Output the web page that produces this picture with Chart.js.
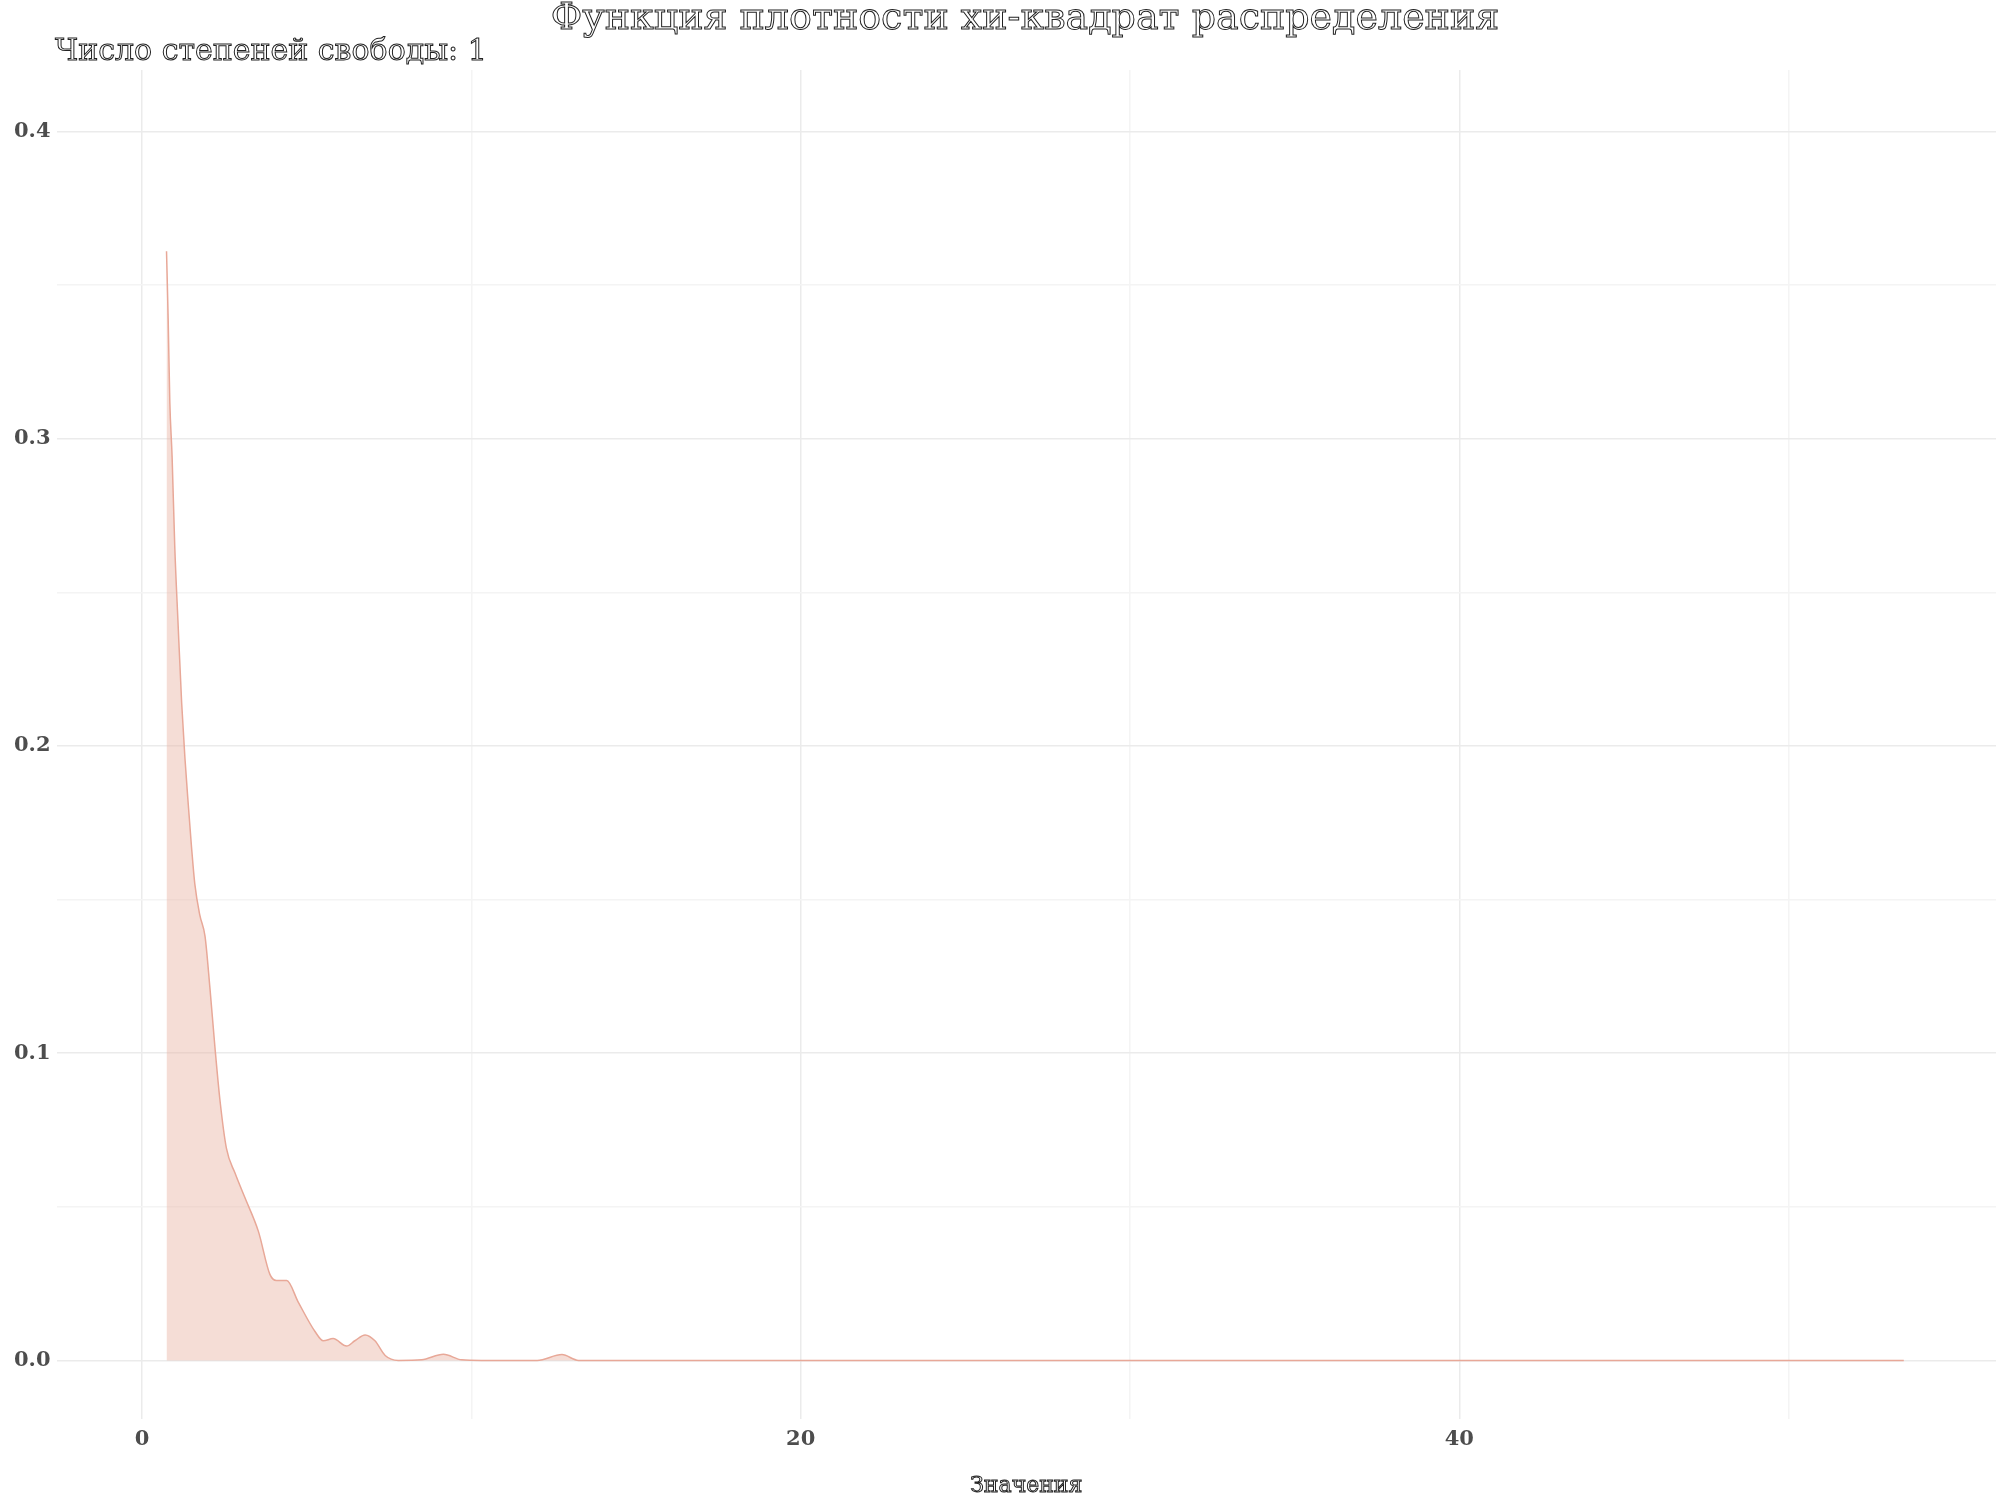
<!DOCTYPE html>
<html>
<head>
<meta charset="utf-8">
<script src="https://cdn.jsdelivr.net/npm/chart.js@4"></script>
<style>
  html, body { margin: 0; padding: 0; background: #fff; }
  #wrap { width: 2000px; height: 1500px; }
</style>
</head>
<body>
<div id="wrap"><canvas id="chart1"></canvas></div>
<script>
// Значения x и плотность
var xValues = [0.74, 0.79, 0.84, 0.91, 0.99, 1.09, 1.20, 1.30, 1.40, 1.50, 1.60, 1.75, 1.91, 2.06, 2.21, 2.36, 2.56, 2.82, 3.12, 3.53, 3.88, 4.08, 4.39, 4.74, 5.25, 5.5, 5.8, 6.21, 6.46, 6.77, 7.07, 7.38, 7.78, 8.49, 9.15, 9.7, 10.3, 12.0, 12.75, 13.25, 20, 30, 40, 53.5];
var density = [0.361, 0.339, 0.312, 0.294, 0.265, 0.240, 0.214, 0.196, 0.181, 0.167, 0.155, 0.145, 0.138, 0.121, 0.102, 0.085, 0.069, 0.061, 0.053, 0.042, 0.028, 0.026, 0.026, 0.019, 0.0094, 0.0064, 0.0071, 0.0047, 0.0064, 0.0083, 0.0064, 0.0016, 0, 0.0002, 0.002, 0.0002, 0, 0, 0.0019, 0, 0, 0, 0, 0];
var xTickLabels = ['0', '20', '40'];
var yTickLabels = ['0.0', '0.1', '0.2', '0.3', '0.4'];

var titleText = 'Функция плотности хи-квадрат распределения';
var subtitleText = 'Число степеней свободы: 1';
var xTitleText = 'Значения';

var points = xValues.map(function (x, i) { return { x: x, y: density[i] }; });

// контурный текст заголовков
var outlineTitles = {
  id: 'outlineTitles',
  afterDraw: function (chart) {
    var c = chart.ctx;
    c.save();
    c.strokeStyle = '#222';
    c.lineWidth = 1;
    c.textBaseline = 'middle';
    c.font = '38px "DejaVu Serif"';
    c.textAlign = 'center';
    c.strokeText(titleText, 1025, 19);
    c.font = '30px "DejaVu Serif"';
    c.textAlign = 'left';
    c.strokeText(subtitleText, 55, 52);
    c.font = '22px "DejaVu Serif"';
    c.textAlign = 'center';
    c.strokeText(xTitleText, (chart.chartArea.left + chart.chartArea.right) / 2, 1486);
    c.restore();
  }
};

var ctx1 = document.getElementById('chart1').getContext('2d');
var chart1 = new Chart(ctx1, {
  type: 'line',
  data: {
    datasets: [{
      data: points,
      borderColor: '#e8a898',
      backgroundColor: 'rgba(232, 180, 165, 0.45)',
      borderWidth: 1.5,
      pointRadius: 0,
      fill: 'origin',
      cubicInterpolationMode: 'monotone'
    }]
  },
  options: {
    responsive: true,
    maintainAspectRatio: false,
    animation: false,
    layout: { padding: { top: 70, left: 8, right: 4, bottom: 40 } },
    plugins: { legend: { display: false }, tooltip: { enabled: false } },
    scales: {
      x: {
        type: 'linear',
        min: -2.6,
        max: 56.3,
        border: { display: false },
        grid: {
          color: function (c) { return c.tick && c.tick.value % 20 === 0 ? '#ebebeb' : '#f4f4f4'; },
          lineWidth: 1.5,
          drawTicks: false
        },
        afterBuildTicks: function (axis) {
          axis.ticks = [0, 10, 20, 30, 40, 50].map(function (v) { return { value: v }; });
        },
        ticks: {
          padding: 8,
          color: '#4d4d4d',
          font: { family: 'DejaVu Serif', weight: 'bold', size: 21 },
          callback: function (v) {
            var i = xTickLabels.indexOf(String(v));
            return i >= 0 ? xTickLabels[i] : '';
          }
        }
      },
      y: {
        min: -0.019,
        max: 0.42,
        border: { display: false },
        grid: {
          color: function (c) { return c.tick && Math.abs(c.tick.value * 10 - Math.round(c.tick.value * 10)) < 1e-6 ? '#ebebeb' : '#f4f4f4'; },
          lineWidth: 1.5,
          drawTicks: false
        },
        afterBuildTicks: function (axis) {
          axis.ticks = [0, 0.05, 0.1, 0.15, 0.2, 0.25, 0.3, 0.35, 0.4].map(function (v) { return { value: v }; });
        },
        ticks: {
          padding: 6,
          color: '#4d4d4d',
          font: { family: 'DejaVu Serif', weight: 'bold', size: 21 },
          callback: function (v) {
            var s = (Math.round(v * 100) / 100).toFixed(1);
            return Math.abs(v * 10 - Math.round(v * 10)) < 1e-6 && yTickLabels.indexOf(s) >= 0 ? s : '';
          }
        }
      }
    }
  },
  plugins: [outlineTitles]
});
</script>
</body>
</html>
